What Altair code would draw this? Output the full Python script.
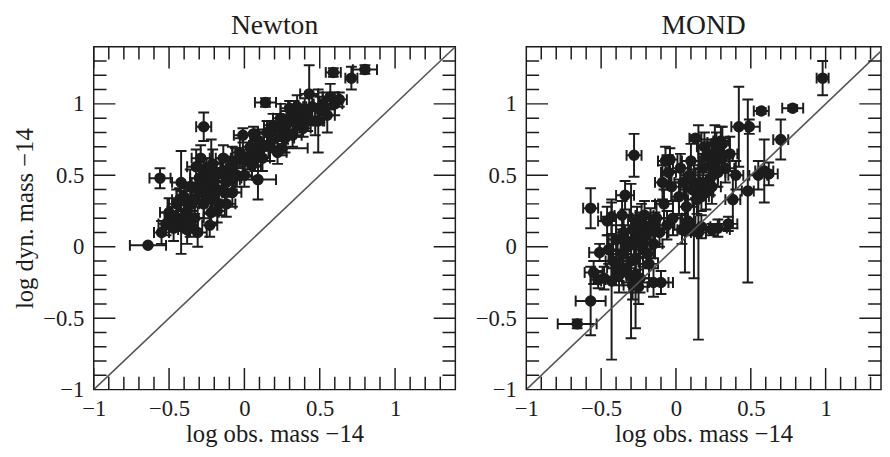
import altair as alt
import pandas as pd

FONT = "Liberation Serif"
INK = "#1c1c1c"

# ---------------- data ----------------
newton_x = [-0.64, -0.55, -0.56, -0.42, -0.42, -0.27, -0.32, 0.14, 0.59, 0.71,
            0.80, 0.43, 0.63, 0.55, 0.49, 0.39, 0.25, 0.09, 0.00, -0.01,
            0.06, 0.30, 0.35, -0.50, -0.31, -0.22, -0.48, -0.45, -0.40, -0.38,
            -0.36, -0.35, -0.33, -0.30, -0.28, -0.27, -0.25, -0.24, -0.22, -0.21,
            -0.20, -0.18, -0.17, -0.15, -0.14, -0.12, -0.10, -0.08, -0.06, -0.05,
            -0.03, 0.02, 0.04, 0.05, 0.08, 0.10, 0.12, 0.15, 0.17, 0.19,
            0.20, 0.22, 0.24, 0.26, 0.28, 0.32, 0.33, 0.37, 0.40, 0.45,
            0.47, 0.52, 0.57, -0.52, -0.47, -0.38, -0.43, -0.29, -0.18, -0.12,
            -0.22, -0.08, -0.40, -0.33, -0.26, -0.19, -0.13, -0.23, -0.30, -0.07,
            0.00, 0.07, 0.13, 0.18, 0.23, 0.30, 0.35, 0.42, 0.27, -0.36,
            0.50, 0.60]
newton_y = [0.01, 0.10, 0.48, 0.45, 0.17, 0.84, 0.56, 1.01, 1.22, 1.18,
            1.24, 1.07, 1.03, 0.92, 0.88, 0.83, 0.69, 0.47, 0.50, 0.78,
            0.79, 0.97, 0.98, 0.24, 0.10, 0.24, 0.20, 0.30, 0.35, 0.25,
            0.42, 0.30, 0.20, 0.38, 0.45, 0.30, 0.52, 0.40, 0.34, 0.58,
            0.46, 0.40, 0.30, 0.52, 0.62, 0.45, 0.55, 0.38, 0.60, 0.50,
            0.66, 0.62, 0.70, 0.57, 0.66, 0.74, 0.62, 0.80, 0.70, 0.85,
            0.76, 0.66, 0.90, 0.80, 0.86, 0.78, 0.92, 0.88, 0.95, 0.98,
            0.88, 1.00, 1.05, 0.16, 0.13, 0.12, 0.33, 0.62, 0.25, 0.30,
            0.55, 0.55, 0.20, 0.33, 0.40, 0.50, 0.38, 0.15, 0.48, 0.48,
            0.60, 0.62, 0.70, 0.78, 0.84, 0.88, 0.85, 0.90, 0.76, 0.15,
            0.96, 1.00]
newton_ex = [0.12, 0.05, 0.07, 0.06, 0.06, 0.05, 0.06, 0.07, 0.05, 0.04,
             0.08, 0.06, 0.05, 0.05, 0.04, 0.05, 0.17, 0.12, 0.05, 0.06,
             0.07, 0.06, 0.06, 0.06, 0.06, 0.05, 0.05, 0.06, 0.05, 0.07,
             0.06, 0.05, 0.06, 0.05, 0.07, 0.06, 0.05, 0.06, 0.05, 0.06,
             0.05, 0.06, 0.05, 0.06, 0.05, 0.06, 0.05, 0.06, 0.05, 0.06,
             0.05, 0.06, 0.05, 0.06, 0.05, 0.06, 0.05, 0.06, 0.05, 0.06,
             0.05, 0.06, 0.05, 0.06, 0.05, 0.06, 0.05, 0.06, 0.05, 0.06,
             0.05, 0.06, 0.05, 0.05, 0.06, 0.06, 0.05, 0.06, 0.05, 0.06,
             0.10, 0.08, 0.06, 0.05, 0.06, 0.05, 0.06, 0.05, 0.06, 0.05,
             0.06, 0.05, 0.06, 0.05, 0.06, 0.05, 0.06, 0.05, 0.06, 0.05,
             0.06, 0.05]
newton_ey = [0.00, 0.08, 0.07, 0.22, 0.22, 0.10, 0.12, 0.03, 0.03, 0.08,
             0.03, 0.20, 0.05, 0.12, 0.22, 0.06, 0.05, 0.14, 0.08, 0.05,
             0.05, 0.05, 0.08, 0.10, 0.10, 0.08, 0.08, 0.10, 0.09, 0.10,
             0.12, 0.09, 0.10, 0.10, 0.12, 0.10, 0.10, 0.08, 0.10, 0.10,
             0.09, 0.10, 0.08, 0.10, 0.09, 0.10, 0.08, 0.10, 0.09, 0.08,
             0.10, 0.08, 0.09, 0.08, 0.10, 0.08, 0.09, 0.08, 0.10, 0.08,
             0.09, 0.08, 0.10, 0.08, 0.09, 0.08, 0.10, 0.08, 0.09, 0.08,
             0.10, 0.08, 0.09, 0.08, 0.09, 0.10, 0.08, 0.09, 0.08, 0.09,
             0.20, 0.15, 0.09, 0.10, 0.08, 0.09, 0.10, 0.08, 0.09, 0.10,
             0.08, 0.09, 0.10, 0.08, 0.09, 0.10, 0.08, 0.09, 0.10, 0.08,
             0.09, 0.08]

mond_x = [-0.66, -0.57, -0.57, -0.43, -0.34, -0.28, 0.13, 0.57, 0.78, 0.98,
          0.70, 0.42, 0.49, 0.48, 0.15, 0.12, 0.59, 0.38, 0.24, -0.43,
          -0.30, -0.27, -0.55, -0.51, -0.15, -0.23, -0.07, 0.26, 0.22, 0.06,
          -0.29, -0.04, 0.30, 0.62, 0.35, 0.17, 0.13, -0.45, -0.42, -0.40,
          -0.38, -0.36, -0.35, -0.33, -0.32, -0.29, -0.27, -0.26, -0.25, -0.24,
          -0.22, -0.21, -0.20, -0.18, -0.17, -0.15, -0.13, -0.11, -0.09, -0.08,
          -0.05, -0.03, 0.02, 0.05, 0.07, 0.09, 0.11, 0.14, 0.16, 0.18,
          0.20, 0.21, 0.23, 0.25, 0.27, 0.29, 0.31, 0.33, 0.36, -0.48,
          -0.52, -0.46, 0.55, 0.40, 0.04, -0.06, 0.28, -0.10, -0.40, -0.34,
          -0.31, -0.28, -0.24, -0.19, -0.14, -0.36, -0.25, 0.03, 0.10, 0.17,
          0.24, 0.28, 0.32, 0.19, -0.02, 0.08]
mond_y = [-0.54, -0.38, 0.27, 0.21, 0.36, 0.64, 0.76, 0.95, 0.97, 1.18,
          0.75, 0.84, 0.84, 0.39, 0.10, 0.12, 0.53, 0.33, 0.12, -0.24,
          -0.10, -0.20, -0.18, -0.04, -0.25, 0.20, 0.60, 0.73, 0.62, 0.12,
          -0.27, 0.61, 0.74, 0.51, 0.16, 0.14, 0.44, -0.02, -0.10, 0.05,
          -0.20, -0.05, 0.10, -0.15, 0.00, 0.12, -0.08, 0.18, 0.05, -0.22,
          -0.02, 0.22, 0.08, -0.12, 0.15, 0.02, 0.20, 0.10, 0.45, 0.30,
          0.52, 0.42, 0.35, 0.45, 0.28, 0.50, 0.40, 0.33, 0.45, 0.55,
          0.38, 0.65, 0.48, 0.58, 0.68, 0.62, 0.72, 0.55, 0.65, -0.22,
          -0.23, 0.18, 0.50, 0.50, 0.12, 0.15, 0.13, -0.25, -0.15, 0.05,
          -0.20, 0.02, 0.12, -0.05, 0.12, 0.22, -0.28, 0.55, 0.60, 0.35,
          0.42, 0.52, 0.64, 0.70, 0.20, 0.18]
mond_ex = [0.13, 0.10, 0.05, 0.07, 0.06, 0.05, 0.04, 0.05, 0.07, 0.04,
           0.05, 0.05, 0.07, 0.04, 0.05, 0.08, 0.06, 0.05, 0.12, 0.07,
           0.05, 0.05, 0.06, 0.07, 0.10, 0.06, 0.05, 0.05, 0.05, 0.05,
           0.06, 0.05, 0.05, 0.06, 0.06, 0.06, 0.06, 0.06, 0.05, 0.06,
           0.05, 0.06, 0.05, 0.06, 0.05, 0.06, 0.05, 0.06, 0.05, 0.06,
           0.05, 0.06, 0.05, 0.06, 0.05, 0.06, 0.05, 0.06, 0.05, 0.06,
           0.05, 0.06, 0.05, 0.06, 0.05, 0.06, 0.05, 0.06, 0.05, 0.06,
           0.05, 0.06, 0.05, 0.06, 0.05, 0.06, 0.05, 0.06, 0.05, 0.06,
           0.05, 0.06, 0.06, 0.05, 0.06, 0.05, 0.06, 0.08, 0.06, 0.05,
           0.06, 0.05, 0.06, 0.05, 0.06, 0.05, 0.06, 0.05, 0.06, 0.05,
           0.06, 0.05, 0.06, 0.05, 0.06, 0.05]
mond_ey = [0.03, 0.24, 0.14, 0.12, 0.10, 0.15, 0.02, 0.02, 0.02, 0.12,
           0.14, 0.28, 0.05, 0.64, 0.75, 0.34, 0.22, 0.20, 0.04, 0.55,
           0.54, 0.37, 0.08, 0.06, 0.10, 0.10, 0.10, 0.12, 0.10, 0.30,
           0.10, 0.08, 0.10, 0.08, 0.05, 0.08, 0.10, 0.10, 0.12, 0.10,
           0.12, 0.10, 0.12, 0.10, 0.12, 0.10, 0.12, 0.10, 0.12, 0.10,
           0.12, 0.10, 0.12, 0.10, 0.12, 0.10, 0.12, 0.10, 0.12, 0.10,
           0.12, 0.10, 0.12, 0.10, 0.12, 0.10, 0.12, 0.10, 0.12, 0.10,
           0.12, 0.10, 0.12, 0.10, 0.12, 0.10, 0.12, 0.10, 0.12, 0.08,
           0.06, 0.10, 0.10, 0.10, 0.10, 0.10, 0.06, 0.08, 0.12, 0.10,
           0.12, 0.10, 0.12, 0.10, 0.12, 0.10, 0.12, 0.10, 0.12, 0.10,
           0.12, 0.10, 0.12, 0.10, 0.12, 0.10]

major_ticks = [-1.0, -0.5, 0.0, 0.5, 1.0]
minor_ticks = [-0.9, -0.8, -0.7, -0.6, -0.4, -0.3, -0.2, -0.1, 0.1, 0.2,
               0.3, 0.4, 0.6, 0.7, 0.8, 0.9, 1.1, 1.2, 1.3]
diag_vals = [-1.0, 1.4]

X_TITLE = "log obs. mass \u221214"
Y_TITLE = "log dyn. mass \u221214"

LABEL_EXPR = ("datum.value < 0 ? '\u2212' + format(-datum.value, '~g') "
              ": format(datum.value, '~g')")

H = 348
MAJ = 22
MIN = 13
SW = 2.0


def panel(title, xs, ys, exs, eys, width, xmax, ytitle):
    df = pd.DataFrame({"x": xs, "y": ys, "ex": exs, "ey": eys})
    df["xlo"] = df["x"] - df["ex"]
    df["xhi"] = df["x"] + df["ex"]
    df["ylo"] = df["y"] - df["ey"]
    df["yhi"] = df["y"] + df["ey"]

    xsc = alt.Scale(domain=[-1, xmax], nice=False, zero=False)
    ysc = alt.Scale(domain=[-1, 1.4], nice=False, zero=False)

    xaxis = alt.Axis(values=major_ticks, labelExpr=LABEL_EXPR, title=X_TITLE, ticks=False,
                     domain=False, grid=False, labelFlush=False, labelOverlap=False,
                     labelPadding=8, titlePadding=2)
    yaxis_kw = dict(values=major_ticks, labelExpr=LABEL_EXPR, ticks=False, domain=False,
                    grid=False, labelFlush=False, labelOverlap=False,
                    labelPadding=10, titlePadding=5)
    if ytitle:
        yaxis = alt.Axis(title=Y_TITLE, **yaxis_kw)
    else:
        yaxis = alt.Axis(title=None, **yaxis_kw)

    def X(f):
        return alt.X(f + ":Q", scale=xsc, axis=xaxis)

    def Y(f):
        return alt.Y(f + ":Q", scale=ysc, axis=yaxis)

    base = alt.Chart(df)
    xbar = base.mark_rule(color=INK, strokeWidth=SW, clip=True).encode(
        x=X("xlo"), x2="xhi:Q", y=Y("y"))
    ybar = base.mark_rule(color=INK, strokeWidth=SW, clip=True).encode(
        x=X("x"), y=Y("ylo"), y2="yhi:Q")
    caps = []
    for f in ["xlo", "xhi"]:
        caps.append(base.mark_tick(orient="vertical", size=11, thickness=SW,
                                   color=INK, clip=True, opacity=1).encode(
            x=X(f), y=Y("y")))
    for f in ["ylo", "yhi"]:
        caps.append(base.mark_tick(orient="horizontal", size=11, thickness=SW,
                                   color=INK, clip=True, opacity=1).encode(
            x=X("x"), y=Y(f)))
    pts = base.mark_circle(size=135, color=INK, opacity=1, clip=True).encode(
        x=X("x"), y=Y("y"))

    ddf = pd.DataFrame({"d": diag_vals})
    diag = alt.Chart(ddf).mark_line(color="#555555", strokeWidth=1.6, clip=True).encode(
        x=X("d"), y=Y("d"))

    tdf = pd.DataFrame({"v": major_ticks + minor_ticks,
                        "kind": ["major"] * len(major_ticks) + ["minor"] * len(minor_ticks)})
    size_enc = alt.Size("kind:N", scale=alt.Scale(domain=["major", "minor"],
                                                  range=[2 * MAJ, 2 * MIN]), legend=None)
    tb = alt.Chart(tdf)
    top = tb.mark_tick(orient="vertical", thickness=1.5, color=INK, clip=True, opacity=1).encode(
        x=X("v"), y=alt.value(0), size=size_enc)
    bot = tb.mark_tick(orient="vertical", thickness=1.5, color=INK, clip=True, opacity=1).encode(
        x=X("v"), y=alt.value(H), size=size_enc)
    lef = tb.mark_tick(orient="horizontal", thickness=1.5, color=INK, clip=True, opacity=1).encode(
        y=Y("v"), x=alt.value(0), size=size_enc)
    rig = tb.mark_tick(orient="horizontal", thickness=1.5, color=INK, clip=True, opacity=1).encode(
        y=Y("v"), x=alt.value(width), size=size_enc)

    return alt.layer(xbar, ybar, *caps, pts, diag, top, bot, lef, rig).properties(
        width=width, height=H,
        title=alt.TitleParams(title, font=FONT, fontSize=28, fontWeight="normal",
                              color=INK, offset=7))


newton = panel("Newton", newton_x, newton_y, newton_ex, newton_ey, 367, 1.4, True)
mond = panel("MOND", mond_x, mond_y, mond_ex, mond_ey, 360, 1.37, False)

chart = alt.hconcat(newton, mond, spacing=18).properties(
    padding={"left": 4, "top": 0, "right": 0, "bottom": 0}
).configure_view(
    stroke=INK, strokeWidth=1.5
).configure_axis(
    labelFont=FONT, labelFontSize=23, labelColor=INK,
    titleFont=FONT, titleFontSize=25, titleFontWeight="normal", titleColor=INK
).configure_title(
    font=FONT, fontSize=28, fontWeight="normal", color=INK
)

chart.save("out.html", embed_options={"renderer": "svg", "actions": False})
